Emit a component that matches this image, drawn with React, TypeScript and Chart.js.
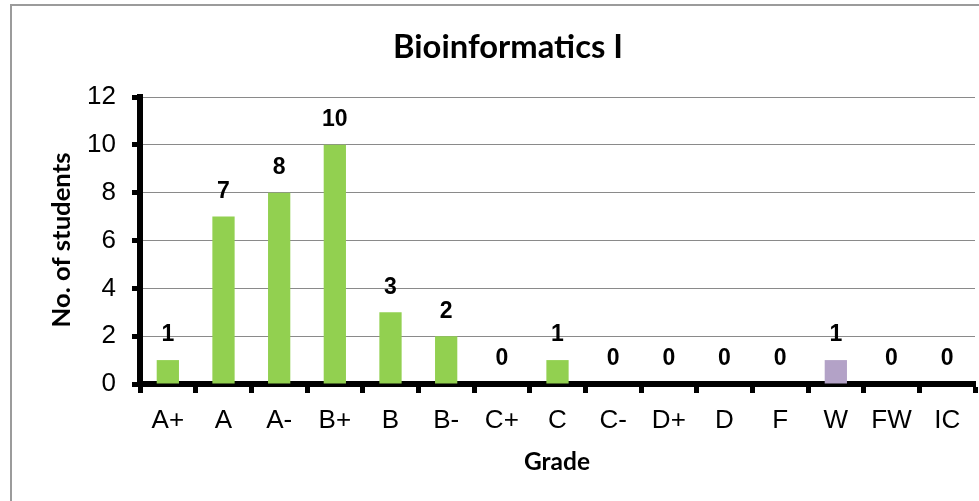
import React, { useEffect, useRef } from "react";
import { Chart, registerables } from "chart.js";

Chart.register(...registerables);

const chartTitle = "Bioinformatics I";
const xTitle = "Grade";
const yTitle = "No. of students";
const grades = ["A+", "A", "A-", "B+", "B", "B-", "C+", "C", "C-", "D+", "D", "F", "W", "FW", "IC"];
const students = [1, 7, 8, 10, 3, 2, 0, 1, 0, 0, 0, 0, 1, 0, 0];
const barColors = grades.map((g) => (g === "W" ? "#B3A2C7" : "#92D050"));

const W = 979;
const H = 501;

function fitFont(ctx: CanvasRenderingContext2D, text: string, family: string, target: number) {
  let size = 20;
  ctx.font = `bold ${size}px ${family}`;
  const w = ctx.measureText(text).width;
  size = (size * target) / w;
  return `bold ${size.toFixed(2)}px ${family}`;
}

const textPlugin = {
  id: "texts",
  afterDraw(chart: any) {
    const ctx: CanvasRenderingContext2D = chart.ctx;
    ctx.save();
    ctx.fillStyle = "#000";
    ctx.textAlign = "center";
    ctx.textBaseline = "middle";
    const fam = "Lato, 'Open Sans', sans-serif";
    ctx.font = fitFont(ctx, chartTitle, fam, 230);
    ctx.fillText(chartTitle, 508, 47);
    ctx.font = fitFont(ctx, xTitle, fam, 66);
    ctx.fillText(xTitle, 557, 462);
    ctx.save();
    ctx.translate(62, 240);
    ctx.rotate(-Math.PI / 2);
    ctx.font = fitFont(ctx, yTitle, fam, 175);
    ctx.fillText(yTitle, 0, 0);
    ctx.restore();

    ctx.font = "bold 23px 'Liberation Sans', Arial, sans-serif";
    const meta = chart.getDatasetMeta(0);
    meta.data.forEach((bar: any, i: number) => {
      ctx.fillText(String(students[i]), bar.x, bar.y - 25);
    });
    ctx.restore();
  },
};

export default function App() {
  const ref = useRef<HTMLCanvasElement>(null);
  useEffect(() => {
    if (!ref.current) return;
    const chart = new Chart(ref.current, {
      type: "bar",
      data: {
        labels: grades,
        datasets: [
          {
            data: students,
            backgroundColor: barColors,
            borderWidth: 0,
            categoryPercentage: 0.8,
            barPercentage: 0.5,
          },
        ],
      },
      options: {
        animation: false,
        responsive: false,
        devicePixelRatio: 1,
        layout: { padding: { left: 0, right: 4, top: 97, bottom: 0 } },
        plugins: { legend: { display: false }, title: { display: false }, tooltip: { enabled: false } },
        scales: {
          x: {
            afterFit: (s: any) => {
              s.height = 117;
            },
            border: { display: true, color: "#000", width: 6 },
            grid: {
              offset: true,
              drawOnChartArea: false,
              drawTicks: true,
              tickLength: 9,
              tickWidth: 5,
              tickColor: "#000",
            },
            ticks: {
              color: "#000",
              padding: 12,
              font: { family: "'Liberation Sans', Arial, sans-serif", size: 26 },
              maxRotation: 0,
              autoSkip: false,
            },
          },
          y: {
            min: 0,
            max: 12,
            afterFit: (s: any) => {
              s.width = 140;
            },
            border: { display: true, color: "#000", width: 6 },
            grid: {
              color: "#8a8a8a",
              lineWidth: 1,
              drawTicks: true,
              tickLength: 8,
              tickWidth: 5,
              tickColor: "#000",
            },
            ticks: {
              stepSize: 2,
              color: "#000",
              padding: 16,
              font: { family: "'Liberation Sans', Arial, sans-serif", size: 26 },
            },
          },
        },
      },
      plugins: [textPlugin],
    });
    return () => chart.destroy();
  }, []);

  return (
    <div style={{ position: "fixed", left: 0, top: 0, width: W, height: H, background: "#fff", overflow: "hidden" }}>
      <div
        style={{
          position: "absolute",
          left: 10,
          top: 4,
          width: 1000,
          height: 600,
          border: "2px solid #9b9b9b",
        }}
      />
      <canvas ref={ref} width={W} height={H} style={{ position: "absolute", left: 0, top: 0 }} />
    </div>
  );
}
